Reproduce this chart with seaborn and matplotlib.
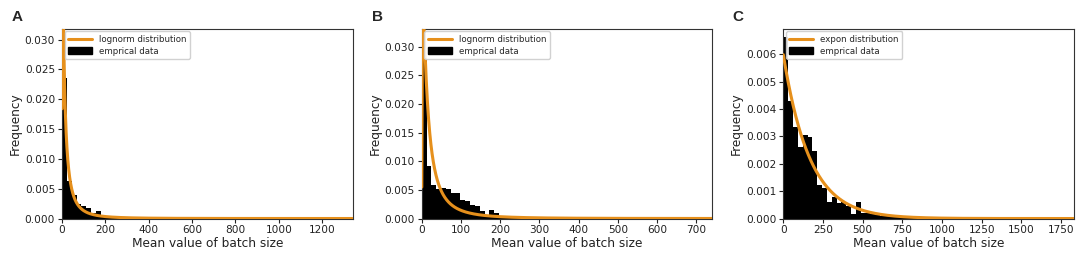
import matplotlib
matplotlib.use("Agg")
import matplotlib.pyplot as plt
import matplotlib.patches as mpatches
from matplotlib.lines import Line2D
import numpy as np
import seaborn as sns

# ---- data (density per bin, 60 bins over [0, x_max]) ----
panel_letters = ["A", "B", "C"]
dist_names = ["lognorm", "lognorm", "expon"]
x_max = [1340, 740, 1830]

hist_a = [0.0235, 0.0063, 0.0040, 0.0024, 0.0021, 0.0018, 0.0009, 0.0013, 0.0005, 0.0004,
          0.0003, 0.00025, 0.0002, 0.00015, 0.00012, 0.0001, 0.00008, 0.00006, 0.00005, 0.00004,
          0.00004, 0.00003, 0.00003, 0.00002, 0.00002, 0.00002, 0.00001, 0.00001, 0.00001, 0.0,
          0.00001, 0.0, 0.0, 0.00001, 0.0, 0.0, 0.0, 0.0, 0.00001, 0.0,
          0.0, 0.0, 0.0, 0.0, 0.0, 0.0, 0.0, 0.0, 0.0, 0.0,
          0.0, 0.0, 0.0, 0.0, 0.0, 0.0, 0.0, 0.0, 0.0, 0.00001]
hist_b = [0.0280, 0.0092, 0.0059, 0.0052, 0.0053, 0.0051, 0.0045, 0.0044, 0.0032, 0.0030,
          0.0024, 0.0021, 0.0013, 0.0006, 0.0015, 0.0009, 0.0005, 0.0004, 0.0003, 0.0002,
          0.0002, 0.00015, 0.0001, 0.0001, 0.0001, 0.00005, 0.00005, 0.00005, 0.00003, 0.00003,
          0.00002, 0.00002, 0.00002, 0.00001, 0.00001, 0.00001, 0.0, 0.00001, 0.0, 0.0,
          0.0, 0.00001, 0.0, 0.0, 0.0, 0.0, 0.0, 0.0, 0.0, 0.0,
          0.0, 0.0, 0.0, 0.0, 0.0, 0.0, 0.0, 0.0, 0.0, 0.00001]
hist_c = [0.00663, 0.00429, 0.00334, 0.00260, 0.00305, 0.00298, 0.00246, 0.00124, 0.00110, 0.00060,
          0.00078, 0.00058, 0.00062, 0.00045, 0.00015, 0.00060, 0.00022, 0.00020, 0.00015, 0.00012,
          0.00010, 0.00018, 0.00006, 0.00005, 0.00004, 0.00003, 0.00003, 0.00002, 0.00002, 0.00002,
          0.00001, 0.00002, 0.00001, 0.0, 0.00001, 0.0, 0.00002, 0.0, 0.00001, 0.0,
          0.00002, 0.0, 0.00001, 0.0, 0.0, 0.00001, 0.0, 0.0, 0.00002, 0.0,
          0.0, 0.00001, 0.0, 0.0, 0.0, 0.0, 0.0, 0.0, 0.0, 0.00001]

# fitted distribution parameters (lognorm: sigma, log-scale mu; expon: scale)
lognorm_a = (1.45, 2.85)
lognorm_b = (1.30, 3.00)
expon_c = 167.0

y_max = [0.0318, 0.0331, 0.00693]
x_ticks = [np.arange(0, 1201, 200), np.arange(0, 701, 100), np.arange(0, 1751, 250)]
y_ticks = [np.arange(0, 0.0301, 0.005), np.arange(0, 0.0301, 0.005), np.arange(0, 0.00601, 0.001)]

LINE_COLOR = "#E6901C"


def lognorm_pdf(x, sigma, mu):
    return np.exp(-(np.log(x) - mu) ** 2 / (2 * sigma ** 2)) / (x * sigma * np.sqrt(2 * np.pi))


def expon_pdf(x, scale):
    return np.exp(-x / scale) / scale


sns.set_style("ticks")
plt.rcParams["font.family"] = ["DejaVu Sans"]

fig = plt.figure(figsize=(10.84, 2.58), dpi=100)
lefts = [0.0572, 0.389, 0.7226]
letter_x = [0.011, 0.343, 0.676]

hists = [hist_a, hist_b, hist_c]
for i in range(3):
    ax = fig.add_axes([lefts[i], 0.153, 0.268, 0.735])
    n_bins = len(hists[i])
    width = x_max[i] / n_bins
    centers = (np.arange(n_bins) + 0.5) * width
    sns.histplot(x=centers, weights=np.asarray(hists[i]), bins=n_bins,
                 binrange=(0, x_max[i]), stat="count",
                 color="black", alpha=1, linewidth=0, ax=ax)

    if i == 0:
        xs = np.linspace(0.3, x_max[i], 3000)
        ys = lognorm_pdf(xs, *lognorm_a)
    elif i == 1:
        xs = np.linspace(0.3, x_max[i], 3000)
        ys = lognorm_pdf(xs, *lognorm_b)
    else:
        xs = np.linspace(0, x_max[i], 3000)
        ys = expon_pdf(xs, expon_c)
    sns.lineplot(x=xs, y=ys, color=LINE_COLOR, linewidth=2.2, ax=ax, zorder=5)

    ax.set_xlim(0, x_max[i])
    ax.set_ylim(0, y_max[i])
    ax.set_xticks(x_ticks[i])
    ax.set_yticks(y_ticks[i])
    ax.set_yticklabels([f"{v:.3f}" for v in y_ticks[i]])
    ax.tick_params(labelsize=7.6, length=3, width=0.8, pad=2, colors="#222")
    ax.set_xlabel("Mean value of batch size", fontsize=8.7, labelpad=1, color="#222")
    ax.set_ylabel("Frequency", fontsize=8.7, labelpad=2, color="#222")
    for s in ax.spines.values():
        s.set_linewidth(0.8)
        s.set_color("#333")

    handles = [Line2D([0], [0], color=LINE_COLOR, linewidth=2.2),
               mpatches.Patch(color="black")]
    ax.legend(handles, [f"{dist_names[i]} distribution", "emprical data"],
              loc="upper left", fontsize=6.2, frameon=True, handlelength=2.8,
              borderaxespad=0.3, labelspacing=0.3, framealpha=0.9)

    fig.text(letter_x[i], 0.935, panel_letters[i], fontsize=11, fontweight="bold",
             family=["Liberation Sans", "DejaVu Sans"], va="center")

fig.savefig("out.png", dpi=100, facecolor="white")
